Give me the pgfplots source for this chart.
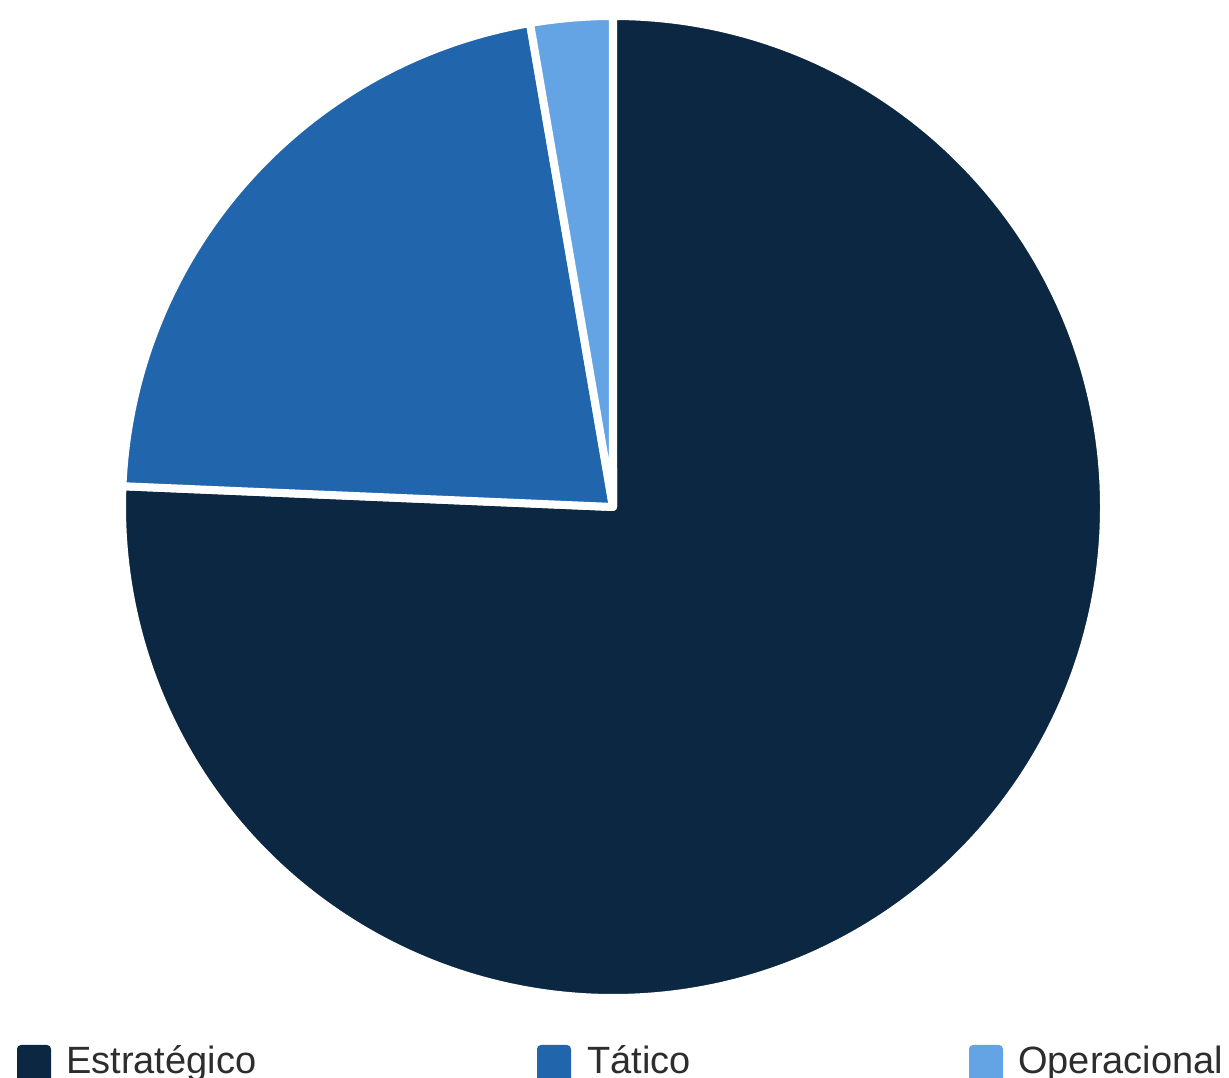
\documentclass[border=0pt]{standalone}
\usepackage{fontspec}
\setmainfont{Liberation Sans}
\usepackage{pgfplots}
\pgfplotsset{compat=1.18}
\definecolor{cEst}{RGB}{12,39,66}
\definecolor{cTat}{RGB}{33,102,172}
\definecolor{cOpe}{RGB}{100,164,228}
\definecolor{ctext}{RGB}{45,45,45}
% values
\def\vEst{28}
\def\vTat{8}
\def\vOpe{1}
\begin{document}
\begin{tikzpicture}
\pgfmathsetmacro{\tot}{\vEst+\vTat+\vOpe}
\pgfmathsetmacro{\aA}{90}
\pgfmathsetmacro{\aB}{90-\vEst/\tot*360}
\pgfmathsetmacro{\aC}{\aB-\vTat/\tot*360}
\pgfmathsetmacro{\aD}{\aC-\vOpe/\tot*360}
\begin{axis}[
  width=1229pt, height=1078pt, scale only axis,
  xmin=0, xmax=1229, ymin=0, ymax=1078,
  axis lines=none, clip=false,
]
\path[use as bounding box] (axis cs:0,0) rectangle (axis cs:1229,1078);
\filldraw[fill=cEst, draw=white, line width=8pt, line join=round]
  (axis cs:613,571) -- ++(\aA:491pt) arc[start angle=\aA, end angle=\aB, radius=491pt] -- cycle;
\filldraw[fill=cTat, draw=white, line width=8pt, line join=round]
  (axis cs:613,571) -- ++(\aB:491pt) arc[start angle=\aB, end angle=\aC, radius=491pt] -- cycle;
\filldraw[fill=cOpe, draw=white, line width=8pt, line join=round]
  (axis cs:613,571) -- ++(\aC:491pt) arc[start angle=\aC, end angle=\aD, radius=491pt] -- cycle;
% legend
\fill[cEst, rounded corners=4pt] (axis cs:17,33) rectangle (axis cs:51,-12);
\fill[cTat, rounded corners=4pt] (axis cs:537,33) rectangle (axis cs:571,-12);
\fill[cOpe, rounded corners=4pt] (axis cs:969,33) rectangle (axis cs:1003,-12);
\node[anchor=base west, inner sep=0pt, font=\fontsize{38}{44}\selectfont, text=ctext] at (axis cs:66,4) {Estratégico};
\node[anchor=base west, inner sep=0pt, font=\fontsize{38}{44}\selectfont, text=ctext] at (axis cs:587,4) {Tático};
\node[anchor=base west, inner sep=0pt, font=\fontsize{38}{44}\selectfont, text=ctext] at (axis cs:1018,4) {Operacional};
\end{axis}
\end{tikzpicture}
\end{document}
